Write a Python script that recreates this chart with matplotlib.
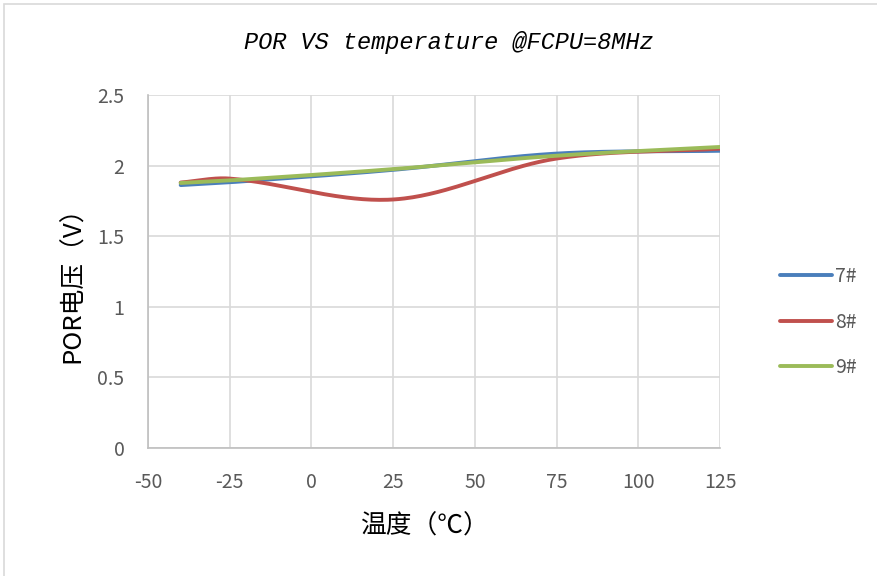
import numpy as np
import matplotlib
matplotlib.use("Agg")
import matplotlib.pyplot as plt
from matplotlib.patches import Rectangle

plt.rcParams['font.family'] = ['Noto Sans CJK SC', 'DejaVu Sans']
plt.rcParams['axes.unicode_minus'] = False

temps = [-40, -25, 25, 75, 125]
series_names = ["7#", "8#", "9#"]
v7 = [1.862, 1.882, 1.970, 2.085, 2.105]
v8 = [1.880, 1.908, 1.760, 2.050, 2.120]
v9 = [1.877, 1.895, 1.975, 2.070, 2.132]
colors = ["#4A7EBB", "#C0504D", "#9BBB59"]

x_ticks = [-50, -25, 0, 25, 50, 75, 100, 125]
y_ticks = [0, 0.5, 1, 1.5, 2, 2.5]
y_tick_labels = ["0", "0.5", "1", "1.5", "2", "2.5"]

# pixel scale of the plot area, used so the curve tension is set in screen space
SX = 572 / 175.0
SY = 353 / 2.5


def smooth(xs, ys, n=60):
    """Cubic Bezier smoothing through every point (spreadsheet-style smoothed line)."""
    pts = np.column_stack([np.asarray(xs) * SX, np.asarray(ys) * SY]).astype(float)
    m = len(pts)
    out = [pts[0]]
    for i in range(m - 1):
        p0 = pts[i - 1] if i > 0 else pts[i]
        p1 = pts[i]
        p2 = pts[i + 1]
        p3 = pts[i + 2] if i + 2 < m else pts[i + 1]
        d01 = np.linalg.norm(p1 - p0)
        d12 = np.linalg.norm(p2 - p1)
        d23 = np.linalg.norm(p3 - p2)
        t1 = (p2 - p0) * (d12 / (d01 + d12)) / 3.0
        t2 = (p3 - p1) * (d12 / (d12 + d23)) / 3.0
        c1 = p1 + t1
        c2 = p2 - t2
        t = np.linspace(0, 1, n)[1:, None]
        seg = ((1 - t) ** 3) * p1 + 3 * ((1 - t) ** 2) * t * c1 + 3 * (1 - t) * t ** 2 * c2 + t ** 3 * p2
        out.extend(seg)
    out = np.array(out)
    return out[:, 0] / SX, out[:, 1] / SY


fig = plt.figure(figsize=(8.77, 5.76), dpi=100)
fig.patches.append(Rectangle((4 / 877, -0.01), 1.0, 1 - 4 / 576 + 0.01,
                             transform=fig.transFigure, fill=False,
                             edgecolor="#D9D9D9", linewidth=1.2))

ax = fig.add_axes([148 / 877, 1 - 448 / 576, 572 / 877, 353 / 576])

for name, vals, c in zip(series_names, [v7, v8, v9], colors):
    sx, sy = smooth(temps, vals)
    ax.plot(sx, sy, color=c, linewidth=2.8, label=name, solid_capstyle="round")

ax.set_xlim(-50, 125)
ax.set_ylim(0, 2.5)
ax.set_xticks(x_ticks)
ax.set_yticks(y_ticks)
ax.set_yticklabels(y_tick_labels)
ax.grid(True, color="#D9D9D9", linewidth=1.2)
ax.set_axisbelow(True)
for s in ["top", "right"]:
    ax.spines[s].set_visible(False)
for s in ["left", "bottom"]:
    ax.spines[s].set_color("#BFBFBF")
    ax.spines[s].set_linewidth(1.2)
ax.tick_params(axis="both", length=0, labelsize=14, labelcolor="#595959")
ax.tick_params(axis="y", pad=17)
ax.tick_params(axis="x", pad=17)

fig.text(449 / 877, 1 - 43 / 576, "POR VS temperature @FCPU=8MHz",
         family="Liberation Mono", style="italic", fontsize=17,
         ha="center", va="center", color="black")
fig.text(425 / 877, 1 - 527 / 576, "温度（℃）", fontsize=18.5, ha="center", va="center")
fig.text(73 / 877, 1 - 278 / 576, "POR电压（V）", fontsize=18.5, ha="center", va="center",
         rotation=90)

leg = fig.legend(loc="center left", bbox_to_anchor=(772 / 877, 1 - 322 / 576),
                 frameon=False, fontsize=14, handlelength=2.7, handletextpad=0.15,
                 labelspacing=1.25, borderaxespad=0)
for t in leg.get_texts():
    t.set_color("#595959")

fig.savefig("out.png", dpi=100)
